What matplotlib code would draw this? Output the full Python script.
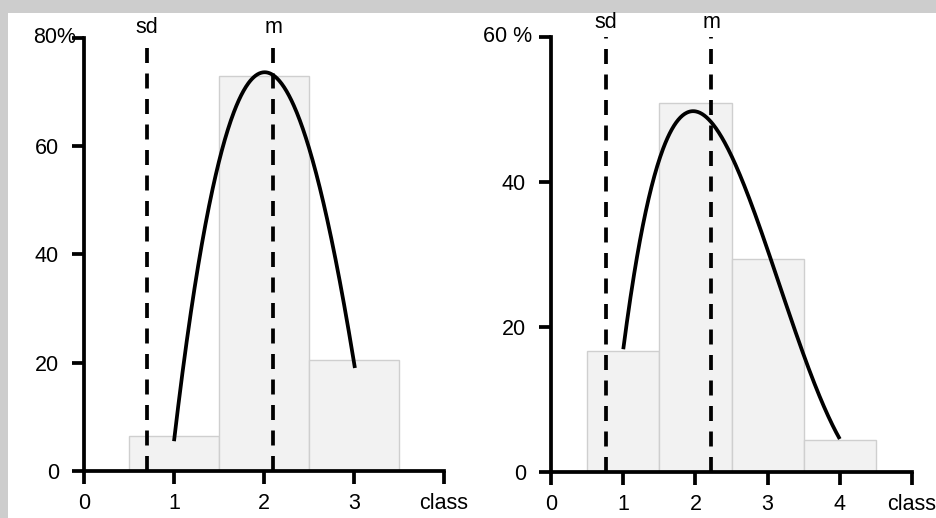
import numpy as np
import matplotlib
matplotlib.use("Agg")
import matplotlib.pyplot as plt
from matplotlib.patches import Rectangle

plt.rcParams['font.family'] = ['Liberation Sans', 'DejaVu Sans']
plt.rcParams['font.size'] = 15.5

W, H = 936, 518

# left panel: share of each class (%)
classes_l = [1, 2, 3]
pct_l = [6.5, 73.0, 20.5]
curve_x_l = [1.0, 1.17, 1.40, 1.585, 1.77, 1.985, 2.33, 2.53, 2.70, 2.84, 3.01]
curve_y_l = [6.3, 26.7, 48.2, 63.6, 70.7, 73.0, 68.6, 58.7, 45.2, 34.1, 20.2]
sd_l, m_l = 0.70, 2.10

# right panel
classes_r = [1, 2, 3, 4]
pct_r = [16.7, 50.9, 29.4, 4.4]
curve_x_r = [1.0, 1.11, 1.28, 1.5, 1.7, 1.98, 2.21, 2.51, 3.0, 3.18, 3.5, 4.0]
curve_y_r = [16.7, 25.6, 34.3, 41.7, 47.6, 51.1, 49.0, 42.8, 29.5, 25.4, 17.1, 4.3]
sd_r, m_r = 0.76, 2.22

LW = 2.7


def px_rect(x0, x1, ytop, ybot):
    return [x0 / W, 1 - ybot / H, (x1 - x0) / W, (ybot - ytop) / H]


fig = plt.figure(figsize=(W / 100, H / 100), dpi=100, facecolor='#cdcdcd')
fig.patches.append(Rectangle((8 / W, 0), 1 - 8 / W, (H - 13) / H, transform=fig.transFigure,
                             facecolor='white', edgecolor='none', zorder=-10))


def panel(rect, xlim, ymax, classes, pct, cx, cy, deg, sd, m, nticks, toplab, top_off, lab_off):
    ax = fig.add_axes(rect)
    ax.set_facecolor('none')
    ax.set_xlim(*xlim)
    ax.set_ylim(0, ymax)
    ax.bar(classes, pct, width=1.0, color='#f2f2f2', edgecolor='#cfcfcf', linewidth=1.0, zorder=1)
    for v, name in [(sd, 'sd'), (m, 'm')]:
        ax.plot([v, v], [0, ymax], color='black', lw=LW, dashes=(4.0, 2.8), zorder=2, clip_on=False)
        ax.annotate(name, xy=(v, ymax), xytext=(0, lab_off), textcoords='offset pixels',
                    ha='center', va='center', annotation_clip=False)
    coef = np.polyfit(cx, cy, deg)
    xs = np.linspace(min(cx), max(cx), 300)
    ax.plot(xs, np.polyval(coef, xs), color='black', lw=LW, zorder=3, solid_capstyle='butt')

    for s in ['top', 'right']:
        ax.spines[s].set_visible(False)
    ax.spines['left'].set_position(('data', 0))
    ax.spines['bottom'].set_position(('data', 0))
    ax.spines['left'].set_bounds(0, ymax)
    ax.spines['bottom'].set_bounds(0, nticks)
    for s in ['left', 'bottom']:
        ax.spines[s].set_linewidth(LW)
        ax.spines[s].set_zorder(5)
    xt = list(range(nticks + 1))
    ax.set_xticks(xt)
    ax.set_xticklabels([str(t) for t in xt[:-1]] + ['class'])
    yt = list(range(0, ymax + 1, 20))
    ax.set_yticks(yt)
    ax.set_yticklabels([str(t) for t in yt[:-1]] + [''])
    ax.tick_params(axis='x', direction='out', length=9.5, width=LW, pad=6)
    ax.tick_params(axis='y', direction='out', length=9, width=LW, pad=9)
    ax.annotate(toplab, xy=(0, ymax), xytext=(top_off, 0), textcoords='offset pixels',
                ha='left', va='center', annotation_clip=False)
    return ax


panel(px_rect(39, 462, 38, 471), (-0.5, 4.2), 80, classes_l, pct_l, curve_x_l, curve_y_l, 3,
      sd_l, m_l, 4, '80%', -51, 10)
panel(px_rect(515, 926.4, 37, 472), (-0.5, 5.2), 60, classes_r, pct_r, curve_x_r, curve_y_r, 4,
      sd_r, m_r, 5, '60 %', -68, 15)

fig.savefig('out.png', dpi=100, facecolor=fig.get_facecolor())
